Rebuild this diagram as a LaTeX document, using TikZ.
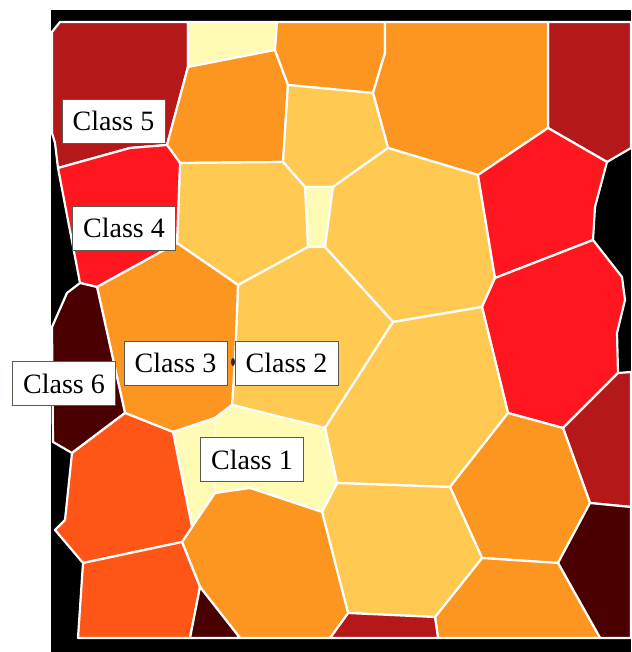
\documentclass[tikz,border=0pt]{standalone}
\usepackage{fontspec}
\setmainfont{Liberation Serif}
\definecolor{cdarkred}{HTML}{B41818}
\definecolor{cred}{HTML}{FF161E}
\definecolor{corred}{HTML}{FF5517}
\definecolor{corange}{HTML}{FD9620}
\definecolor{clight}{HTML}{FFC952}
\definecolor{cpale}{HTML}{FFFBB4}
\definecolor{cmaroon}{HTML}{4A0000}
\definecolor{cborder}{HTML}{5A5A50}
\begin{document}
\begin{tikzpicture}[x=1pt,y=-1pt,
  cell/.style={draw=white,line width=2.2pt,line join=round},
  lbl/.style={draw=cborder,line width=0.9pt,fill=white,minimum width=103pt,minimum height=44pt,inner sep=0pt,font=\fontsize{28}{34}\selectfont}]
\useasboundingbox (0,0) rectangle (631,652);
\fill[white] (0,0) rectangle (631,652);
\fill[black] (51,10) rectangle (631,652);
% vertices
\coordinate (A1) at (52,32);
\coordinate (A2) at (60,22);
\coordinate (A3) at (188,22);
\coordinate (A4) at (277,22);
\coordinate (A5) at (385,22);
\coordinate (A6) at (548,22);
\coordinate (A7) at (631,22);
\coordinate (R1) at (631,148);
\coordinate (R2) at (607,162);
\coordinate (R3) at (548,128);
\coordinate (R4) at (595,207);
\coordinate (R5) at (593,240);
\coordinate (R6) at (622,277);
\coordinate (R7) at (625,300);
\coordinate (R8) at (617,333);
\coordinate (R9) at (618,373);
\coordinate (R10) at (631,372);
\coordinate (B1) at (188,67);
\coordinate (B2) at (167,145);
\coordinate (B3) at (130,148);
\coordinate (B4) at (58,168);
\coordinate (B5) at (55,143);
\coordinate (B6) at (52,133);
\coordinate (B7) at (275,50);
\coordinate (B8) at (288,85);
\coordinate (B9) at (283,162);
\coordinate (B10) at (180,163);
\coordinate (C1) at (385,53);
\coordinate (C2) at (373,93);
\coordinate (C4) at (478,175);
\coordinate (C5) at (388,148);
\coordinate (C6) at (333,187);
\coordinate (C7) at (305,187);
\coordinate (C8) at (325,247);
\coordinate (C9) at (308,247);
\coordinate (D1) at (238,285);
\coordinate (D2) at (177,243);
\coordinate (D3) at (97,287);
\coordinate (D4) at (80,283);
\coordinate (E1) at (495,278);
\coordinate (E2) at (482,307);
\coordinate (E3) at (393,322);
\coordinate (F1) at (325,428);
\coordinate (F2) at (232,405);
\coordinate (F3) at (235,360);
\coordinate (F4) at (215,418);
\coordinate (F5) at (173,432);
\coordinate (F6) at (125,413);
\coordinate (G1) at (52,327);
\coordinate (G2) at (67,293);
\coordinate (G4) at (72,453);
\coordinate (G5) at (53,442);
\coordinate (H1) at (563,428);
\coordinate (H2) at (508,413);
\coordinate (H3) at (631,507);
\coordinate (H4) at (590,503);
\coordinate (H5) at (450,487);
\coordinate (H6) at (337,483);
\coordinate (H7) at (558,563);
\coordinate (H8) at (482,558);
\coordinate (H9) at (631,638);
\coordinate (H10) at (600,638);
\coordinate (H11) at (438,638);
\coordinate (H12) at (435,617);
\coordinate (J1) at (322,512);
\coordinate (J2) at (348,613);
\coordinate (J3) at (330,638);
\coordinate (J4) at (250,488);
\coordinate (J5) at (215,493);
\coordinate (J6) at (192,527);
\coordinate (K1) at (240,638);
\coordinate (K2) at (200,587);
\coordinate (K3) at (182,542);
\coordinate (K4) at (83,563);
\coordinate (K5) at (55,530);
\coordinate (K6) at (65,520);
\coordinate (K7) at (190,638);
\coordinate (K8) at (78,638);
% cells
\filldraw[cell,fill=cdarkred] (A6)--(A7)--(R1)--(R2)--(R3)--cycle;
\filldraw[cell,fill=cdarkred] (A1)--(A2)--(A3)--(B1)--(B2)--(B3)--(B4)--(B5)--(B6)--cycle;
\filldraw[cell,fill=cpale] (A3)--(A4)--(B7)--(B1)--cycle;
\filldraw[cell,fill=corange] (B1)--(B7)--(B8)--(B9)--(B10)--(B2)--cycle;
\filldraw[cell,fill=corange] (A4)--(A5)--(C1)--(C2)--(B8)--(B7)--cycle;
\filldraw[cell,fill=corange] (A5)--(A6)--(R3)--(C4)--(C5)--(C2)--(C1)--cycle;
\filldraw[cell,fill=clight] (B8)--(C2)--(C5)--(C6)--(C7)--(B9)--cycle;
\filldraw[cell,fill=cpale] (C7)--(C6)--(C8)--(C9)--cycle;
\filldraw[cell,fill=clight] (B10)--(B9)--(C7)--(C9)--(D1)--(D2)--cycle;
\filldraw[cell,fill=cred] (B4)--(B3)--(B2)--(B10)--(D2)--(D3)--(D4)--cycle;
\filldraw[cell,fill=clight] (C6)--(C5)--(C4)--(E1)--(E2)--(E3)--(C8)--cycle;
\filldraw[cell,fill=clight] (C9)--(C8)--(E3)--(F1)--(F2)--(F3)--(D1)--cycle;
\filldraw[cell,fill=corange] (D3)--(D2)--(D1)--(F3)--(F2)--(F4)--(F5)--(F6)--cycle;
\filldraw[cell,fill=cmaroon] (G1)--(G2)--(D4)--(D3)--(F6)--(G4)--(G5)--cycle;
\filldraw[cell,fill=cred] (C4)--(R3)--(R2)--(R4)--(R5)--(E1)--cycle;
\filldraw[cell,fill=cred] (E1)--(R5)--(R6)--(R7)--(R8)--(R9)--(H1)--(H2)--(E2)--cycle;
\filldraw[cell,fill=cdarkred] (H1)--(R9)--(R10)--(H3)--(H4)--cycle;
\filldraw[cell,fill=clight] (F1)--(E3)--(E2)--(H2)--(H5)--(H6)--cycle;
\filldraw[cell,fill=corange] (H2)--(H1)--(H4)--(H7)--(H8)--(H5)--cycle;
\filldraw[cell,fill=cmaroon] (H7)--(H4)--(H3)--(H9)--(H10)--cycle;
\filldraw[cell,fill=corange] (H8)--(H7)--(H10)--(H11)--(H12)--cycle;
\filldraw[cell,fill=clight] (J1)--(H6)--(H5)--(H8)--(H12)--(J2)--cycle;
\filldraw[cell,fill=cdarkred] (J2)--(H12)--(H11)--(J3)--cycle;
\filldraw[cell,fill=cpale] (F5)--(F4)--(F2)--(F1)--(H6)--(J1)--(J4)--(J5)--(J6)--cycle;
\draw[white!55!cpale,line width=1.6pt] (F4)--(J5);
\filldraw[cell,fill=corange] (J6)--(J5)--(J4)--(J1)--(J2)--(J3)--(K1)--(K2)--(K3)--cycle;
\filldraw[cell,fill=corred] (F6)--(F5)--(J6)--(K3)--(K4)--(K5)--(K6)--(G4)--cycle;
\filldraw[cell,fill=corred] (K4)--(K3)--(K2)--(K7)--(K8)--cycle;
\filldraw[cell,fill=cmaroon] (K2)--(K1)--(K7)--cycle;
% small dark mark
\fill[black!85] (233,362) ellipse (2pt and 4pt);
% labels
\node[lbl] (c5) at (113.5,121) {Class 5};
\node[lbl] (c4) at (124,228) {Class 4};
\node[lbl] (c6) at (64,383.5) {Class 6};
\node[lbl] (c3) at (175.5,363) {Class 3};
\node[lbl] (c2) at (286.5,363) {Class 2};
\node[lbl] (c1) at (252,459.5) {Class 1};
\end{tikzpicture}
\end{document}
